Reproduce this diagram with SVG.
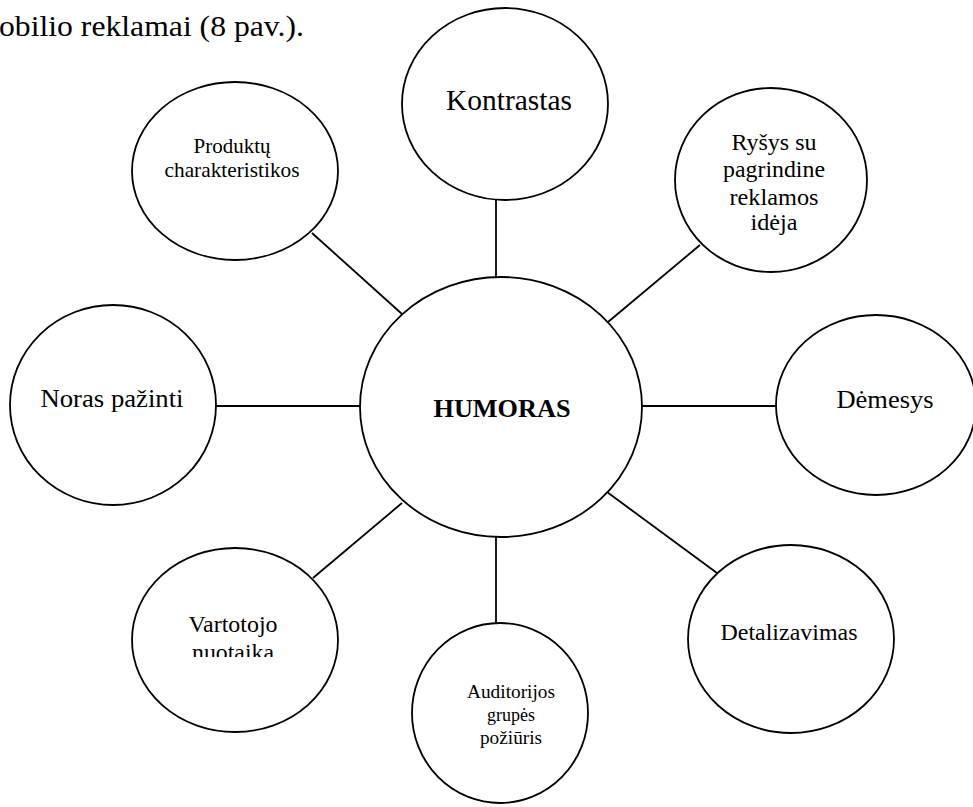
<svg xmlns="http://www.w3.org/2000/svg" width="973" height="807" viewBox="0 0 973 807">
  <style>
    .bubble { fill: #ffffff; stroke: #000000; stroke-width: 1.8; }
    .link { stroke: #000000; stroke-width: 1.8; fill: none; }
    text { font-family: "Liberation Serif", "DejaVu Serif", serif; font-weight: normal; fill: #000000; text-anchor: middle; }
    .t19 { font-size: 19.5px; }
    .t21 { font-size: 21px; }
    .t23 { font-size: 23px; }
    .t26 { font-size: 26px; }
    .t29 { font-size: 29px; }
  </style>
  <defs>
    <clipPath id="cut-vartotojo">
      <rect x="120" y="540" width="230" height="117"/>
    </clipPath>
  </defs>
  <rect width="973" height="807" fill="#ffffff"/>

  <text x="-1" y="36" style="text-anchor:start;font-size:30px" textLength="305" lengthAdjust="spacingAndGlyphs">obilio reklamai (8 pav.).</text>

  <g id="connectors">
    <line class="link" x1="496" y1="200" x2="496" y2="277"/>
    <line class="link" x1="312" y1="233" x2="402" y2="314"/>
    <line class="link" x1="700" y1="245" x2="608" y2="322"/>
    <line class="link" x1="216" y1="406" x2="360" y2="406"/>
    <line class="link" x1="642" y1="406" x2="777" y2="406"/>
    <line class="link" x1="313" y1="578" x2="402" y2="503"/>
    <line class="link" x1="607" y1="492" x2="717" y2="573"/>
    <line class="link" x1="496" y1="537" x2="496" y2="624"/>
  </g>

  <g id="humoras">
    <ellipse class="bubble" cx="501" cy="407" rx="141" ry="130"/>
    <text x="502" y="417" style="font-size:26px;font-weight:bold" textLength="137" lengthAdjust="spacingAndGlyphs">HUMORAS</text>
  </g>

  <g id="kontrastas">
    <ellipse class="bubble" cx="505" cy="104" rx="103" ry="96"/>
    <text class="t29" x="509" y="110" textLength="126" lengthAdjust="spacingAndGlyphs">Kontrastas</text>
  </g>

  <g id="produktu-charakteristikos">
    <ellipse class="bubble" cx="235" cy="171" rx="103" ry="89"/>
    <text class="t21" x="232" y="153" textLength="77" lengthAdjust="spacingAndGlyphs">Produktų</text>
    <text class="t21" x="232" y="177" textLength="135" lengthAdjust="spacingAndGlyphs">charakteristikos</text>
  </g>

  <g id="rysys">
    <ellipse class="bubble" cx="771" cy="180" rx="96" ry="92"/>
    <text class="t23" x="774" y="150" textLength="85" lengthAdjust="spacingAndGlyphs">Ryšys su</text>
    <text class="t23" x="774" y="177" textLength="102" lengthAdjust="spacingAndGlyphs">pagrindine</text>
    <text class="t23" x="774" y="205" textLength="89" lengthAdjust="spacingAndGlyphs">reklamos</text>
    <text class="t23" x="774" y="230" textLength="47" lengthAdjust="spacingAndGlyphs">idėja</text>
  </g>

  <g id="noras-pazinti">
    <ellipse class="bubble" cx="113" cy="405" rx="103" ry="100"/>
    <text class="t26" x="112" y="407" textLength="143" lengthAdjust="spacingAndGlyphs">Noras pažinti</text>
  </g>

  <g id="demesys">
    <ellipse class="bubble" cx="876" cy="405" rx="100" ry="90"/>
    <text class="t26" x="885" y="408" textLength="97" lengthAdjust="spacingAndGlyphs">Dėmesys</text>
  </g>

  <g id="vartotojo-nuotaika">
    <ellipse class="bubble" cx="235" cy="640" rx="103" ry="92"/>
    <text class="t23" x="233" y="632" textLength="89" lengthAdjust="spacingAndGlyphs">Vartotojo</text>
    <text class="t23" x="233" y="660" clip-path="url(#cut-vartotojo)" textLength="82" lengthAdjust="spacingAndGlyphs">nuotaika</text>
  </g>

  <g id="detalizavimas">
    <ellipse class="bubble" cx="791" cy="639" rx="103" ry="94"/>
    <text class="t23" x="789" y="640" textLength="137" lengthAdjust="spacingAndGlyphs">Detalizavimas</text>
  </g>

  <g id="auditorijos">
    <ellipse class="bubble" cx="500" cy="713" rx="88" ry="90"/>
    <text class="t19" x="511" y="698" textLength="88" lengthAdjust="spacingAndGlyphs">Auditorijos</text>
    <text class="t19" x="511" y="721" textLength="48" lengthAdjust="spacingAndGlyphs">grupės</text>
    <text class="t19" x="511" y="744" textLength="62" lengthAdjust="spacingAndGlyphs">požiūris</text>
  </g>
</svg>
